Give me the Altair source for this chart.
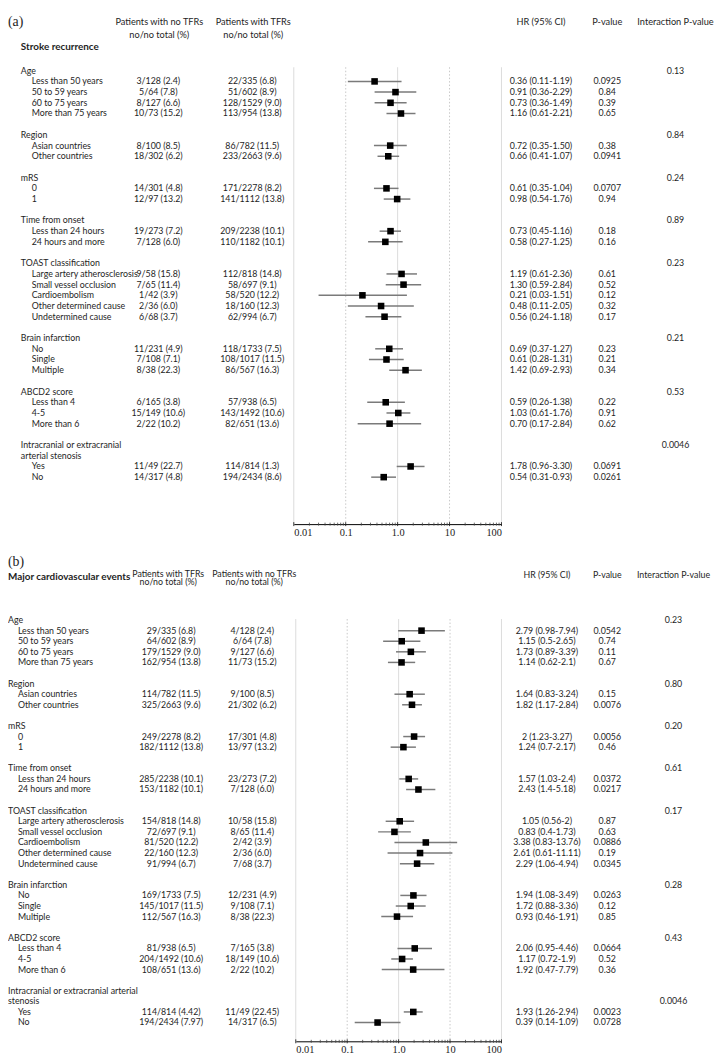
import altair as alt
import pandas as pd

# ---------------- data ----------------
group_names_a = ["Age", "Region", "mRS", "Time from onset", "TOAST classification",
                 "Brain infarction", "ABCD2 score", "Intracranial or extracranial|arterial stenosis"]
group_names_b = ["Age", "Region", "mRS", "Time from onset", "TOAST classification",
                 "Brain infarction", "ABCD2 score", "Intracranial or extracranial arterial|stenosis"]
subgroups = [
    ["Less than 50 years", "50 to 59 years", "60 to 75 years", "More than 75 years"],
    ["Asian countries", "Other countries"],
    ["0", "1"],
    ["Less than 24 hours", "24 hours and more"],
    ["Large artery atherosclerosis", "Small vessel occlusion", "Cardioembolism",
     "Other determined cause", "Undetermined cause"],
    ["No", "Single", "Multiple"],
    ["Less than 4", "4-5", "More than 6"],
    ["Yes", "No"],
]

# Panel (a) stroke recurrence
a_no_tfr = ["3/128 (2.4)", "5/64 (7.8)", "8/127 (6.6)", "10/73 (15.2)",
            "8/100 (8.5)", "18/302 (6.2)",
            "14/301 (4.8)", "12/97 (13.2)",
            "19/273 (7.2)", "7/128 (6.0)",
            "9/58 (15.8)", "7/65 (11.4)", "1/42 (3.9)", "2/36 (6.0)", "6/68 (3.7)",
            "11/231 (4.9)", "7/108 (7.1)", "8/38 (22.3)",
            "6/165 (3.8)", "15/149 (10.6)", "2/22 (10.2)",
            "11/49 (22.7)", "14/317 (4.8)"]
a_tfr = ["22/335 (6.8)", "51/602 (8.9)", "128/1529 (9.0)", "113/954 (13.8)",
         "86/782 (11.5)", "233/2663 (9.6)",
         "171/2278 (8.2)", "141/1112 (13.8)",
         "209/2238 (10.1)", "110/1182 (10.1)",
         "112/818 (14.8)", "58/697 (9.1)", "58/520 (12.2)", "18/160 (12.3)", "62/994 (6.7)",
         "118/1733 (7.5)", "108/1017 (11.5)", "86/567 (16.3)",
         "57/938 (6.5)", "143/1492 (10.6)", "82/651 (13.6)",
         "114/814 (1.3)", "194/2434 (8.6)"]
a_hr_text = ["0.36 (0.11-1.19)", "0.91 (0.36-2.29)", "0.73 (0.36-1.49)", "1.16 (0.61-2.21)",
             "0.72 (0.35-1.50)", "0.66 (0.41-1.07)",
             "0.61 (0.35-1.04)", "0.98 (0.54-1.76)",
             "0.73 (0.45-1.16)", "0.58 (0.27-1.25)",
             "1.19 (0.61-2.36)", "1.30 (0.59-2.84)", "0.21 (0.03-1.51)", "0.48 (0.11-2.05)", "0.56 (0.24-1.18)",
             "0.69 (0.37-1.27)", "0.61 (0.28-1.31)", "1.42 (0.69-2.93)",
             "0.59 (0.26-1.38)", "1.03 (0.61-1.76)", "0.70 (0.17-2.84)",
             "1.78 (0.96-3.30)", "0.54 (0.31-0.93)"]
a_hr = [0.36, 0.91, 0.73, 1.16, 0.72, 0.66, 0.61, 0.98, 0.73, 0.58,
        1.19, 1.30, 0.21, 0.48, 0.56, 0.69, 0.61, 1.42, 0.59, 1.03, 0.70, 1.78, 0.54]
a_lo = [0.11, 0.36, 0.36, 0.61, 0.35, 0.41, 0.35, 0.54, 0.45, 0.27,
        0.61, 0.59, 0.03, 0.11, 0.24, 0.37, 0.28, 0.69, 0.26, 0.61, 0.17, 0.96, 0.31]
a_hi = [1.19, 2.29, 1.49, 2.21, 1.50, 1.07, 1.04, 1.76, 1.16, 1.25,
        2.36, 2.84, 1.51, 2.05, 1.18, 1.27, 1.31, 2.93, 1.38, 1.76, 2.84, 3.30, 0.93]
a_p = ["0.0925", "0.84", "0.39", "0.65", "0.38", "0.0941", "0.0707", "0.94", "0.18", "0.16",
       "0.61", "0.52", "0.12", "0.32", "0.17", "0.23", "0.21", "0.34", "0.22", "0.91", "0.62",
       "0.0691", "0.0261"]
a_inter = ["0.13", "0.84", "0.24", "0.89", "0.23", "0.21", "0.53", "0.0046"]

# Panel (b) major cardiovascular events
b_tfr = ["29/335 (6.8)", "64/602 (8.9)", "179/1529 (9.0)", "162/954 (13.8)",
         "114/782 (11.5)", "325/2663 (9.6)",
         "249/2278 (8.2)", "182/1112 (13.8)",
         "285/2238 (10.1)", "153/1182 (10.1)",
         "154/818 (14.8)", "72/697 (9.1)", "81/520 (12.2)", "22/160 (12.3)", "91/994 (6.7)",
         "169/1733 (7.5)", "145/1017 (11.5)", "112/567 (16.3)",
         "81/938 (6.5)", "204/1492 (10.6)", "108/651 (13.6)",
         "114/814 (4.42)", "194/2434 (7.97)"]
b_no_tfr = ["4/128 (2.4)", "6/64 (7.8)", "9/127 (6.6)", "11/73 (15.2)",
            "9/100 (8.5)", "21/302 (6.2)",
            "17/301 (4.8)", "13/97 (13.2)",
            "23/273 (7.2)", "7/128 (6.0)",
            "10/58 (15.8)", "8/65 (11.4)", "2/42 (3.9)", "2/36 (6.0)", "7/68 (3.7)",
            "12/231 (4.9)", "9/108 (7.1)", "8/38 (22.3)",
            "7/165 (3.8)", "18/149 (10.6)", "2/22 (10.2)",
            "11/49 (22.45)", "14/317 (6.5)"]
b_hr_text = ["2.79 (0.98-7.94)", "1.15 (0.5-2.65)", "1.73 (0.89-3.39)", "1.14 (0.62-2.1)",
             "1.64 (0.83-3.24)", "1.82 (1.17-2.84)",
             "2 (1.23-3.27)", "1.24 (0.7-2.17)",
             "1.57 (1.03-2.4)", "2.43 (1.4-5.18)",
             "1.05 (0.56-2)", "0.83 (0.4-1.73)", "3.38 (0.83-13.76)", "2.61 (0.61-11.11)", "2.29 (1.06-4.94)",
             "1.94 (1.08-3.49)", "1.72 (0.88-3.36)", "0.93 (0.46-1.91)",
             "2.06 (0.95-4.46)", "1.17 (0.72-1.9)", "1.92 (0.47-7.79)",
             "1.93 (1.26-2.94)", "0.39 (0.14-1.09)"]
b_hr = [2.79, 1.15, 1.73, 1.14, 1.64, 1.82, 2.0, 1.24, 1.57, 2.43,
        1.05, 0.83, 3.38, 2.61, 2.29, 1.94, 1.72, 0.93, 2.06, 1.17, 1.92, 1.93, 0.39]
b_lo = [0.98, 0.5, 0.89, 0.62, 0.83, 1.17, 1.23, 0.7, 1.03, 1.4,
        0.56, 0.4, 0.83, 0.61, 1.06, 1.08, 0.88, 0.46, 0.95, 0.72, 0.47, 1.26, 0.14]
b_hi = [7.94, 2.65, 3.39, 2.1, 3.24, 2.84, 3.27, 2.17, 2.4, 5.18,
        2.0, 1.73, 13.76, 11.11, 4.94, 3.49, 3.36, 1.91, 4.46, 1.9, 7.79, 2.94, 1.09]
b_p = ["0.0542", "0.74", "0.11", "0.67", "0.15", "0.0076", "0.0056", "0.46", "0.0372", "0.0217",
       "0.87", "0.63", "0.0886", "0.19", "0.0345", "0.0263", "0.12", "0.85", "0.0664", "0.52", "0.36",
       "0.0023", "0.0728"]
b_inter = ["0.23", "0.80", "0.20", "0.61", "0.17", "0.28", "0.43", "0.0046"]

tick_values = [0.01, 0.1, 1, 10, 100]
tick_labels = ["0.01", "0.1", "1.0", "10", "100"]
grid_solid = [0.01, 1, 100]
grid_dotted = [0.1, 10]
minor_ticks = [m * d for d in [0.01, 0.1, 1, 10] for m in range(2, 10)]

# ---------------- helpers ----------------
FONT = "Lato"
FS = 8.9
TXT = "#1e1e1e"
H = 1039
W = 712


def layout(group_names, inter_on_last):
    heads, items, inters = [], [], []
    r = 0
    for g, subs in zip(group_names, subgroups):
        lines = g.split("|")
        for ln in lines:
            heads.append((ln, r))
            r += 1
        inters.append(r - 1 if inter_on_last else r - len(lines))
        for s in subs:
            items.append((s, r))
            r += 1
        r += 1
    return heads, items, inters


def panel(cfg):
    heads, items, inter_rows = layout(cfg["groups"], cfg["inter_last"])
    head_df = pd.DataFrame(heads, columns=["label", "row"])
    item_df = pd.DataFrame(items, columns=["label", "row"])
    item_df["c1"] = cfg["c1"]
    item_df["c2"] = cfg["c2"]
    item_df["hrt"] = cfg["hrt"]
    item_df["p"] = cfg["p"]
    item_df["hr"] = cfg["hr"]
    item_df["lo"] = cfg["lo"]
    item_df["hi"] = cfg["hi"]
    inter_df = pd.DataFrame({"row": inter_rows, "t": cfg["inter"]})
    fsh = cfg["fsh"]

    ysc = alt.Scale(domain=[0, 38], range=cfg["yrange"])
    xsc = alt.Scale(type="log", domain=[0.01, 100], range=cfg["xrange"], nice=False)
    label_expr = " : ".join(
        [f"datum.value == {v} ? '{l}'" for v, l in zip(tick_values, tick_labels)]) + " : datum.label"
    xax = alt.Axis(values=tick_values, labelExpr=label_expr, title=None, grid=False,
                   ticks=False, tickSize=0, domainColor="#000000", domainWidth=1,
                   labelFont="Liberation Serif", labelFontSize=10.5, labelColor="#222222",
                   labelPadding=3, orient="bottom", offset=cfg["axis_offset"])

    def col_text(df, x, field, align, size=FS, weight="normal"):
        return alt.Chart(df).mark_text(align=align, baseline="middle", font=FONT, fontSize=size,
                                       fontWeight=weight, color=TXT).encode(
            x=alt.value(x), y=alt.Y("row:Q", scale=ysc, axis=None), text=alt.Text(f"{field}:N"))

    def fixed(text, x, y, align="center", size=None, weight="normal", font=FONT):
        return alt.Chart(pd.DataFrame({"t": [text]})).mark_text(
            align=align, baseline="middle", font=font, fontSize=size or fsh, fontWeight=weight,
            color=TXT).encode(x=alt.value(x), y=alt.value(y), text="t:N")

    layers = []
    # gridlines
    layers.append(alt.Chart(pd.DataFrame({"g": grid_solid})).mark_rule(
        color="#dcdcdc", strokeWidth=1).encode(
        x=alt.X("g:Q", scale=xsc, axis=xax), y=alt.value(cfg["gtop"]), y2=alt.value(cfg["gbot"])))
    layers.append(alt.Chart(pd.DataFrame({"g": grid_dotted})).mark_rule(
        color="#c8c8c8", strokeWidth=1, strokeDash=[1.5, 2]).encode(
        x=alt.X("g:Q", scale=xsc, axis=xax), y=alt.value(cfg["gtop"]), y2=alt.value(cfg["gbot"])))
    # axis ticks (major + minor)
    layers.append(alt.Chart(pd.DataFrame({"t": minor_ticks})).mark_rule(
        color="#444444", strokeWidth=0.8).encode(
        x=alt.X("t:Q", scale=xsc, axis=xax), y=alt.value(cfg["gbot"] - 1.5),
        y2=alt.value(cfg["gbot"] + 1.5)))
    layers.append(alt.Chart(pd.DataFrame({"t": tick_values})).mark_rule(
        color="#222222", strokeWidth=0.9).encode(
        x=alt.X("t:Q", scale=xsc, axis=xax), y=alt.value(cfg["gbot"] - 2),
        y2=alt.value(cfg["gbot"] + 2)))
    # CI lines and squares
    layers.append(alt.Chart(item_df).mark_rule(color="#7a7a7a", strokeWidth=1.5).encode(
        x=alt.X("lo:Q", scale=xsc, axis=xax), x2="hi:Q",
        y=alt.Y("row:Q", scale=ysc, axis=None)))
    layers.append(alt.Chart(item_df).mark_square(color="#000000", size=44, opacity=1).encode(
        x=alt.X("hr:Q", scale=xsc, axis=xax), y=alt.Y("row:Q", scale=ysc, axis=None)))
    # text columns
    layers.append(col_text(head_df, cfg["xhead"], "label", "left"))
    layers.append(col_text(item_df, cfg["xitem"], "label", "left"))
    layers.append(col_text(item_df, cfg["xc1"], "c1", "center"))
    layers.append(col_text(item_df, cfg["xc2"], "c2", "center"))
    layers.append(col_text(item_df, cfg["xhr"], "hrt", "center"))
    layers.append(col_text(item_df, cfg["xp"], "p", "center"))
    layers.append(col_text(inter_df, cfg["xint"], "t", "center"))
    # headers
    layers.append(fixed(cfg["tag"], 0, cfg["ytag"], align="left", size=14, font="Liberation Serif"))
    layers.append(fixed(cfg["title"], cfg["xtitle"], cfg["ytitle"], align="left", size=10, weight="bold"))
    layers.append(fixed(cfg["h1"], cfg["xh1"], cfg["yh1"]))
    layers.append(fixed("no/no total (%)", cfg["xh1"], cfg["yh2"]))
    layers.append(fixed(cfg["h2"], cfg["xh2"], cfg["yh1"]))
    layers.append(fixed("no/no total (%)", cfg["xh2"], cfg["yh2"]))
    layers.append(fixed("HR (95% CI)", cfg["xhr"], cfg["yh1b"]))
    layers.append(fixed("P-value", cfg["xp"], cfg["yh1b"]))
    layers.append(fixed("Interaction P-value", cfg["xint"], cfg["yh1b"]))
    return alt.layer(*layers)


cfg_a = dict(groups=group_names_a, inter_last=False, c1=a_no_tfr, c2=a_tfr, hrt=a_hr_text, p=a_p,
             hr=a_hr, lo=a_lo, hi=a_hi, inter=a_inter, fsh=9.3,
             yrange=[57.5, 468.5], xrange=[289, 499], gtop=54, gbot=516, axis_offset=516 - H,
             xhead=13, xitem=24, xc1=152, xc2=247, xh1=153, xh2=248, xhr=539, xp=606, xint=675,
             tag="(a)", ytag=8, title="Stroke recurrence", xtitle=13, ytitle=34,
             h1="Patients with no TFRs", h2="Patients with TFRs", yh1=8, yh2=21, yh1b=8)
cfg_b = dict(groups=group_names_b, inter_last=True, c1=b_tfr, c2=b_no_tfr, hrt=b_hr_text, p=b_p,
             hr=b_hr, lo=b_lo, hi=b_hi, inter=b_inter, fsh=8.9,
             yrange=[613, 1020], xrange=[291, 499], gtop=612, gbot=H, axis_offset=0,
             xhead=0, xitem=10, xc1=165, xc2=247, xh1=162, xh2=249, xhr=545, xp=606, xint=673,
             tag="(b)", ytag=554, title="Major cardiovascular events", xtitle=0, ytitle=570,
             h1="Patients with TFRs", h2="Patients with no TFRs", yh1=566, yh2=575, yh1b=567)

chart = alt.layer(panel(cfg_a), panel(cfg_b)).resolve_scale(
    x="independent", y="independent"
).properties(
    width=W, height=H,
    autosize=alt.AutoSizeParams(type="none"),
    padding={"left": 0, "top": 0, "right": 8, "bottom": 16},
).configure_view(stroke=None)

chart.save("out.html", embed_options={"renderer": "svg", "actions": False})
